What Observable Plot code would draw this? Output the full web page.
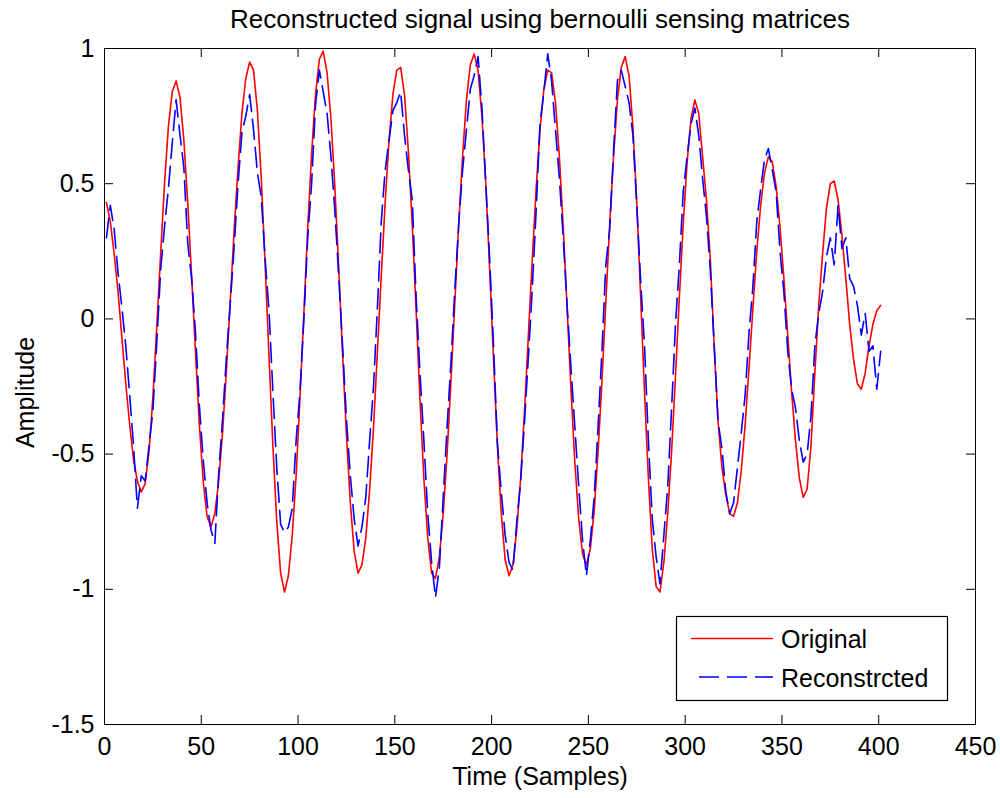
<!DOCTYPE html>
<html>
<head>
<meta charset="utf-8">
<script src="https://cdn.jsdelivr.net/npm/d3@7"></script>
<script src="https://cdn.jsdelivr.net/npm/@observablehq/plot@0.6"></script>
<style>
  html, body { margin: 0; padding: 0; background: #ffffff; }
  #chart { width: 1000px; height: 798px; }
</style>
</head>
<body>
<div id="chart"></div>
<script>
// ---------------- data ----------------
const title = "Reconstructed signal using bernoulli sensing matrices";
const xLabel = "Time (Samples)";
const yLabel = "Amplitude";
const seriesNames = ["Original", "Reconstrcted"];

// samples 1, 3, 5, ... 401
const sampleStart = 1;
const sampleStep = 2;

const original = [
  0.43, 0.36, 0.24, 0.10, -0.07, -0.24, -0.39, -0.52, -0.60, -0.64,
  -0.61, -0.49, -0.29, -0.03, 0.24, 0.50, 0.71, 0.84, 0.88, 0.82,
  0.66, 0.43, 0.16, -0.12, -0.39, -0.60, -0.73, -0.77, -0.72, -0.60,
  -0.42, -0.19, 0.07, 0.33, 0.56, 0.76, 0.89, 0.95, 0.92, 0.77,
  0.52, 0.20, -0.14, -0.47, -0.75, -0.94, -1.01, -0.95, -0.80, -0.58,
  -0.29, 0.02, 0.34, 0.61, 0.83, 0.96, 0.99, 0.91, 0.74, 0.49,
  0.19, -0.13, -0.43, -0.68, -0.86, -0.94, -0.91, -0.81, -0.63, -0.40,
  -0.12, 0.16, 0.43, 0.66, 0.83, 0.92, 0.93, 0.83, 0.62, 0.35,
  0.03, -0.30, -0.59, -0.81, -0.94, -0.96, -0.88, -0.72, -0.50, -0.23,
  0.06, 0.35, 0.60, 0.81, 0.94, 0.98, 0.92, 0.75, 0.50, 0.18,
  -0.15, -0.47, -0.72, -0.89, -0.95, -0.91, -0.78, -0.59, -0.34, -0.06,
  0.22, 0.48, 0.70, 0.85, 0.92, 0.91, 0.80, 0.60, 0.34, 0.04,
  -0.26, -0.53, -0.74, -0.87, -0.91, -0.85, -0.71, -0.49, -0.23, 0.06,
  0.35, 0.60, 0.81, 0.93, 0.97, 0.90, 0.71, 0.43, 0.08, -0.27,
  -0.59, -0.85, -0.99, -1.01, -0.90, -0.72, -0.49, -0.21, 0.08, 0.35,
  0.58, 0.74, 0.81, 0.76, 0.60, 0.44, 0.22, -0.10, -0.38, -0.55,
  -0.65, -0.72, -0.73, -0.68, -0.56, -0.39, -0.18, 0.04, 0.25, 0.42,
  0.54, 0.60, 0.58, 0.49, 0.34, 0.15, -0.06, -0.27, -0.45, -0.59,
  -0.66, -0.63, -0.47, -0.20, 0.05, 0.24, 0.41, 0.50, 0.51, 0.44,
  0.31, 0.15, -0.02, -0.15, -0.24, -0.26, -0.20, -0.10, -0.02, 0.03,
  0.05
];

const reconstructed = [
  0.30, 0.42, 0.33, 0.17, 0.04, -0.10, -0.28, -0.47, -0.70, -0.58,
  -0.60, -0.47, -0.34, -0.09, 0.18, 0.34, 0.48, 0.65, 0.81, 0.68,
  0.56, 0.28, 0.15, -0.05, -0.32, -0.52, -0.68, -0.78, -0.83, -0.57,
  -0.37, -0.14, 0.06, 0.27, 0.50, 0.69, 0.75, 0.83, 0.70, 0.54,
  0.45, 0.22, 0.03, -0.27, -0.55, -0.76, -0.79, -0.77, -0.70, -0.45,
  -0.27, 0.00, 0.30, 0.50, 0.79, 0.92, 0.84, 0.76, 0.60, 0.40,
  0.16, -0.10, -0.37, -0.58, -0.74, -0.84, -0.77, -0.66, -0.45, -0.25,
  0.04, 0.36, 0.55, 0.66, 0.77, 0.80, 0.84, 0.68, 0.55, 0.44,
  0.08, -0.20, -0.45, -0.72, -0.90, -1.03, -0.92, -0.66, -0.40, -0.16,
  0.11, 0.35, 0.55, 0.70, 0.85, 0.90, 0.97, 0.78, 0.50, 0.22,
  -0.10, -0.46, -0.64, -0.80, -0.90, -0.93, -0.75, -0.60, -0.38, -0.14,
  0.11, 0.40, 0.72, 0.84, 0.98, 0.88, 0.70, 0.52, 0.30, 0.05,
  -0.18, -0.40, -0.62, -0.82, -0.95, -0.82, -0.66, -0.40, -0.12, 0.20,
  0.33, 0.62, 0.88, 0.92, 0.86, 0.80, 0.68, 0.42, 0.14, -0.10,
  -0.45, -0.74, -0.88, -0.98, -0.80, -0.62, -0.33, -0.02, 0.20, 0.47,
  0.60, 0.72, 0.78, 0.68, 0.52, 0.38, 0.18, -0.10, -0.38, -0.48,
  -0.64, -0.72, -0.68, -0.55, -0.42, -0.28, -0.05, 0.12, 0.36, 0.48,
  0.59, 0.63, 0.55, 0.47, 0.25, 0.10, -0.12, -0.26, -0.33, -0.45,
  -0.53, -0.50, -0.36, -0.10, 0.02, 0.10, 0.23, 0.30, 0.20, 0.42,
  0.26, 0.30, 0.15, 0.12, 0.05, -0.06, 0.02, -0.12, -0.10, -0.26,
  -0.12
];

const xTicks = [0, 50, 100, 150, 200, 250, 300, 350, 400, 450];
const xTickLabels = ["0", "50", "100", "150", "200", "250", "300", "350", "400", "450"];
const yTicks = [-1.5, -1, -0.5, 0, 0.5, 1];
const yTickLabels = ["-1.5", "-1", "-0.5", "0", "0.5", "1"];

// ---------------- chart ----------------
const rows = original.map((v, i) => ({
  t: sampleStart + i * sampleStep,
  orig: v,
  rec: reconstructed[i]
}));

const W = 1000, H = 798;
const mL = 104, mR = 25, mT = 48, mB = 74;
const innerW = W - mL - mR, innerH = H - mT - mB;
const tickLen = 9;
const FONT = "'Liberation Sans', Arial, Helvetica, sans-serif";
const FS = 25;
const RED = "#ff0000", BLUE = "#0000ff";
const DASH = "20,8";

const plot = Plot.plot({
  width: W,
  height: H,
  marginLeft: mL,
  marginRight: mR,
  marginTop: mT,
  marginBottom: mB,
  style: { fontFamily: FONT, fontSize: FS + "px", color: "#000", background: "#fff", overflow: "visible" },
  x: { domain: [0, 450] },
  y: { domain: [-1.5, 1] },
  marks: [
    Plot.line(rows, { x: "t", y: "orig", stroke: RED, strokeWidth: 1.6 }),
    Plot.line(rows, { x: "t", y: "rec", stroke: BLUE, strokeWidth: 1.6, strokeDasharray: DASH }),
    // inward ticks on all four sides
    Plot.tickX(xTicks, { x: d => d, insetTop: innerH - tickLen, stroke: "#000" }),
    Plot.tickX(xTicks, { x: d => d, insetBottom: innerH - tickLen, stroke: "#000" }),
    Plot.tickY(yTicks, { y: d => d, insetRight: innerW - tickLen, stroke: "#000" }),
    Plot.tickY(yTicks, { y: d => d, insetLeft: innerW - tickLen, stroke: "#000" }),
    Plot.frame({ stroke: "#000" }),
    Plot.axisX(xTicks, {
      anchor: "bottom", tickSize: 0, tickPadding: 13, label: null,
      tickFormat: d => xTickLabels[xTicks.indexOf(d)], fontSize: FS, fill: "#000"
    }),
    Plot.axisY(yTicks, {
      anchor: "left", tickSize: 0, tickPadding: 10, label: null,
      tickFormat: d => yTickLabels[yTicks.indexOf(d)], fontSize: FS, fill: "#000"
    }),
    Plot.text([title], { text: d => d, frameAnchor: "top", dy: -29, fontSize: 26, lineAnchor: "middle", textAnchor: "middle", fill: "#000" }),
    Plot.text([xLabel], { text: d => d, frameAnchor: "bottom", dy: 52, fontSize: FS, lineAnchor: "middle", textAnchor: "middle", fill: "#000" }),
    Plot.text([yLabel], { text: d => d, frameAnchor: "left", dx: -79, dy: 6, rotate: -90, fontSize: FS, lineAnchor: "middle", textAnchor: "middle", fill: "#000" })
  ]
});

// legend box (MATLAB style)
const svg = d3.select(plot);
const lg = svg.append("g")
  .attr("font-family", FONT)
  .attr("font-size", FS)
  .attr("text-anchor", "start");
lg.append("rect")
  .attr("x", 676.5).attr("y", 616.5).attr("width", 271).attr("height", 84)
  .attr("fill", "#fff").attr("stroke", "#000").attr("stroke-width", 1.2);
const legendItems = [
  { name: seriesNames[0], color: RED, dash: null, y: 638.5 },
  { name: seriesNames[1], color: BLUE, dash: DASH, y: 677 }
];
legendItems.forEach(it => {
  const ln = lg.append("line")
    .attr("x1", 691).attr("x2", 773).attr("y1", it.y).attr("y2", it.y)
    .attr("stroke", it.color).attr("stroke-width", 1.6);
  if (it.dash) ln.attr("stroke-dasharray", it.dash).attr("stroke-dashoffset", 20);
  lg.append("text")
    .attr("x", 781).attr("y", it.y + 1).attr("dy", "0.35em")
    .attr("text-anchor", "start")
    .attr("fill", "#000").text(it.name);
});

document.getElementById("chart").appendChild(plot);
</script>
</body>
</html>
